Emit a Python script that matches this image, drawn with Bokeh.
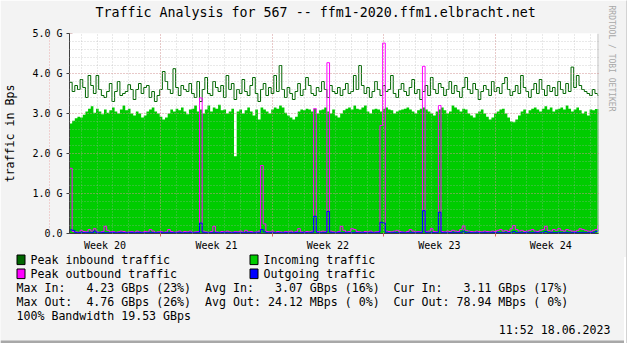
import numpy as np
from bokeh.plotting import figure
from bokeh.layouts import column, row
from bokeh.models import FixedTicker, Title, Span, Arrow, Range1d
from bokeh.core.properties import value
from bokeh.embed import file_html
from bokeh.resources import INLINE

# ---------------- data ----------------
chart_title = "Traffic Analysis for 567 -- ffm1-2020.ffm1.elbracht.net"
y_axis_title = "traffic in Bps"
week_labels = ["Week 20", "Week 21", "Week 22", "Week 23", "Week 24"]
week_starts = ["2023-05-15", "2023-05-22", "2023-05-29", "2023-06-05", "2023-06-12"]
t_first = "2023-05-16T06:29"
t_last = "2023-06-18T11:52"
step_hours = 4
y_ticks = [0, 1, 2, 3, 4, 5]
y_tick_labels = ["0.0", "1.0 G", "2.0 G", "3.0 G", "4.0 G", "5.0 G"]

# values in G (per 4-hour step)
incoming = [
    2.75, 2.82, 2.88, 2.92, 2.90, 2.97, 3.05, 3.12, 3.18, 3.02, 3.12, 3.05, 2.98, 3.10, 3.02, 3.08, 3.15, 3.05, 3.00, 3.10,
    3.20, 3.08, 3.12, 3.00, 2.95, 3.05, 3.00, 2.90, 2.95, 3.05, 3.10, 3.15, 3.05, 3.00, 2.92, 2.85, 2.90, 3.00, 3.10, 3.05,
    3.12, 3.08, 3.15, 3.05, 2.98, 3.10, 3.12, 3.20, 3.05, 3.10, 3.00, 3.10, 3.20, 3.05, 3.15, 3.12, 3.22, 3.08, 3.10, 3.00,
    3.05, 3.12, 1.93, 3.05, 3.10, 3.00, 3.08, 3.15, 3.05, 2.95, 3.10, 2.85, 3.15, 3.10, 3.05, 3.00, 3.10, 3.15, 3.12, 3.20,
    3.15, 3.02, 2.95, 2.90, 2.85, 2.92, 3.05, 3.10, 3.08, 3.12, 3.10, 3.05, 3.12, 3.00, 3.08, 3.10, 3.15, 3.05, 3.00, 3.10,
    2.95, 2.90, 3.00, 3.08, 3.12, 3.15, 3.10, 3.20, 3.12, 3.10, 3.15, 3.20, 3.05, 3.00, 3.10, 3.12, 3.10, 3.05, 3.12, 3.15,
    3.10, 3.08, 3.00, 3.05, 3.08, 3.10, 3.12, 3.15, 3.10, 3.05, 3.00, 3.08, 3.12, 3.15, 3.10, 3.05, 3.00, 2.95, 3.05, 3.10,
    3.15, 3.08, 3.00, 3.05, 3.20, 3.15, 3.10, 3.05, 3.12, 3.10, 3.00, 2.95, 2.90, 3.00, 3.05, 3.10, 3.00, 2.92, 2.85, 2.90,
    3.00, 3.05, 3.10, 3.12, 3.00, 2.90, 2.80, 2.78, 2.85, 2.95, 3.05, 3.10, 3.00, 3.08, 3.12, 3.15, 3.10, 3.05, 3.12, 3.18,
    3.10, 3.15, 3.05, 3.10, 3.12, 3.15, 3.10, 3.20, 3.12, 3.05, 3.10, 3.15, 3.08, 3.00, 3.05, 2.95, 3.10, 3.08, 3.11, 3.11,
]
peak_in = [
    3.78, 3.55, 3.70, 3.60, 3.85, 3.65, 3.40, 3.95, 3.70, 3.50, 3.95, 3.60, 3.45, 3.40, 3.55, 3.75, 3.30, 3.55, 3.80, 3.45,
    3.50, 3.55, 3.72, 3.60, 3.35, 3.60, 3.75, 3.50, 3.65, 3.70, 3.40, 3.55, 3.30, 3.45, 3.60, 4.05, 3.80, 3.60, 3.50, 4.12,
    3.65, 3.45, 3.70, 3.60, 3.55, 3.75, 3.50, 3.40, 3.80, 3.30, 3.60, 3.90, 3.50, 3.45, 3.80, 3.65, 3.55, 3.70, 3.40, 3.95,
    3.60, 3.75, 3.35, 3.60, 3.50, 3.85, 3.55, 3.45, 3.70, 3.90, 3.50, 3.30, 3.60, 3.75, 3.45, 3.65, 3.50, 3.95, 3.55, 4.20,
    3.60, 3.40, 3.65, 3.50, 3.35, 3.55, 3.75, 3.45, 3.60, 3.90, 3.70, 3.50, 3.45, 3.65, 3.55, 3.80, 3.60, 3.40, 3.70, 3.55,
    3.50, 3.65, 3.45, 3.60, 3.75, 3.50, 3.55, 3.95, 3.60, 4.20, 3.70, 3.50, 3.65, 3.40, 3.55, 3.80, 3.60, 3.45, 3.70, 3.55,
    3.60, 3.95, 3.50, 3.40, 3.60, 3.75, 3.55, 3.45, 3.65, 3.85, 3.50, 3.60, 3.35, 3.55, 3.70, 3.45, 3.90, 3.60, 3.50, 3.75,
    3.65, 3.45, 3.60, 3.80, 3.50, 3.70, 3.55, 3.40, 3.65, 3.90, 3.60, 3.50, 3.75, 3.60, 3.35, 3.55, 3.70, 3.60, 3.45, 3.80,
    3.55, 3.65, 3.50, 3.75, 3.90, 3.60, 3.45, 3.55, 3.70, 3.50, 3.95, 3.65, 3.55, 3.40, 3.60, 3.75, 3.50, 3.85, 3.60, 3.45,
    3.70, 3.55, 3.65, 3.45, 3.80, 3.60, 3.50, 3.75, 3.55, 4.16, 3.65, 3.95, 3.70, 3.60, 3.55, 3.50, 3.45, 3.60, 3.50, 3.45,
]
peak_out = [
    1.63, 0.05, 0.04, 0.03, 0.08, 0.05, 0.04, 0.10, 0.06, 0.12, 0.04, 0.03, 0.05, 0.18, 0.08, 0.04, 0.05, 0.03, 0.04, 0.06,
    0.05, 0.03, 0.04, 0.05, 0.03, 0.06, 0.04, 0.03, 0.05, 0.04, 0.10, 0.06, 0.03, 0.04, 0.05, 0.03, 0.04, 0.10, 0.05, 0.03,
    0.04, 0.06, 0.03, 0.05, 0.04, 0.06, 0.03, 0.04, 0.05, 3.39, 0.06, 0.04, 0.03, 0.05, 0.18, 0.04, 0.03, 0.05, 0.04, 0.06,
    0.04, 0.03, 0.05, 0.04, 0.06, 0.03, 0.08, 0.04, 0.05, 0.03, 0.04, 0.06, 1.70, 0.24, 0.05, 0.04, 0.06, 0.03, 0.05, 0.04,
    0.03, 0.05, 0.04, 0.06, 0.03, 0.05, 0.12, 0.04, 0.03, 0.05, 0.04, 0.06, 3.12, 0.05, 0.04, 0.06, 0.05, 4.27, 0.06, 0.04,
    0.03, 0.05, 0.18, 0.08, 0.04, 0.05, 0.12, 0.10, 0.05, 0.04, 0.03, 0.05, 0.04, 0.06, 0.03, 0.04, 0.05, 2.70, 4.76, 0.06,
    0.05, 0.04, 0.06, 0.08, 0.05, 0.04, 0.03, 0.05, 0.10, 0.06, 0.04, 0.05, 0.04, 4.18, 0.05, 0.06, 0.12, 0.05, 0.04, 3.20,
    0.05, 0.04, 0.06, 0.05, 0.08, 0.06, 0.05, 0.10, 0.19, 0.08, 0.06, 0.05, 0.04, 0.06, 0.05, 0.04, 0.06, 0.05, 0.04, 0.06,
    0.05, 0.08, 0.10, 0.06, 0.08, 0.05, 0.12, 0.20, 0.10, 0.06, 0.08, 0.05, 0.06, 0.08, 0.10, 0.06, 0.05, 0.08, 0.10, 0.18,
    0.08, 0.06, 0.10, 0.08, 0.12, 0.08, 0.06, 0.10, 0.08, 0.06, 0.05, 0.08, 0.12, 0.10, 0.08, 0.06, 0.05, 0.08, 0.10, 0.20,
]
outgoing = [
    0.09, 0.08, 0.02, 0.02, 0.03, 0.02, 0.02, 0.03, 0.02, 0.06, 0.02, 0.02, 0.03, 0.02, 0.02, 0.02, 0.03, 0.02, 0.02, 0.03,
    0.02, 0.02, 0.02, 0.03, 0.02, 0.02, 0.03, 0.02, 0.02, 0.02, 0.03, 0.02, 0.02, 0.02, 0.03, 0.02, 0.02, 0.03, 0.02, 0.02,
    0.02, 0.03, 0.02, 0.02, 0.02, 0.03, 0.02, 0.02, 0.03, 0.26, 0.03, 0.02, 0.02, 0.02, 0.03, 0.02, 0.02, 0.02, 0.03, 0.02,
    0.02, 0.02, 0.03, 0.02, 0.02, 0.02, 0.03, 0.02, 0.02, 0.02, 0.03, 0.02, 0.10, 0.04, 0.02, 0.02, 0.03, 0.02, 0.02, 0.02,
    0.02, 0.03, 0.02, 0.02, 0.02, 0.03, 0.02, 0.02, 0.03, 0.02, 0.02, 0.03, 0.43, 0.03, 0.02, 0.02, 0.03, 0.55, 0.03, 0.02,
    0.02, 0.03, 0.02, 0.02, 0.03, 0.02, 0.02, 0.03, 0.02, 0.02, 0.03, 0.02, 0.02, 0.03, 0.02, 0.02, 0.03, 0.28, 0.26, 0.03,
    0.02, 0.02, 0.03, 0.02, 0.02, 0.03, 0.02, 0.02, 0.03, 0.02, 0.02, 0.03, 0.02, 0.57, 0.03, 0.02, 0.03, 0.02, 0.02, 0.53,
    0.02, 0.03, 0.02, 0.02, 0.03, 0.02, 0.02, 0.03, 0.06, 0.02, 0.03, 0.02, 0.02, 0.03, 0.02, 0.02, 0.03, 0.02, 0.02, 0.03,
    0.02, 0.03, 0.02, 0.02, 0.03, 0.02, 0.02, 0.05, 0.02, 0.03, 0.02, 0.02, 0.03, 0.02, 0.02, 0.03, 0.02, 0.02, 0.03, 0.05,
    0.02, 0.03, 0.02, 0.02, 0.03, 0.02, 0.02, 0.03, 0.02, 0.02, 0.03, 0.02, 0.02, 0.03, 0.02, 0.02, 0.03, 0.02, 0.05, 0.08,
]

legend_names = ["Peak inbound traffic", "Incoming traffic", "Peak outbound traffic", "Outgoing traffic"]
legend_colors = ["#006600", "#00CC00", "#FF00FF", "#0000FF"]
stat_labels = [["Max In:", "Avg In:", "Cur In:"],
               ["Max Out:", "Avg Out:", "Cur Out:"]]
stat_values = [["4.23 GBps (23%)", "3.07 GBps (16%)", "3.11 GBps (17%)"],
               ["4.76 GBps (26%)", "24.12 MBps ( 0%)", "78.94 MBps ( 0%)"]]
bandwidth_line = "100% Bandwidth 19.53 GBps"
timestamp = "11:52 18.06.2023"
watermark = "RRDTOOL / TOBI OETIKER"

# ---------------- derived positions ----------------
origin = np.datetime64(week_starts[0])
def to_days(t):
    return float((np.datetime64(t) - origin) / np.timedelta64(1, "m")) / 1440.0

x_start = to_days(t_first)
x_end = to_days(t_last)
n = min(len(incoming), len(peak_in), len(peak_out), len(outgoing))
xs = x_start + np.arange(n + 1) * step_hours / 24.0
def ext(a):
    a = list(a[:n])
    return a + [a[-1]]

week_start_days = [to_days(w) for w in week_starts]
week_centers = [d + 3.5 for d in week_start_days]
day_ticks = list(np.arange(np.ceil(x_start), np.floor(x_end) + 1))
y_minor = [round(v, 2) for v in np.arange(0, 5.001, 0.2)]

FONT = "DejaVu Sans Mono"
BG = "#F3F3F3"
SHADE = "#A8A8A8"
ARROW = "#802020"
AXIS = "#404040"
TOTAL_W, TOTAL_H = 627, 343
MAIN_W = 624
L, T, R, B = 67, 33, 28, 24
FW, FH = MAIN_W - L - R, 200
MAIN_H = T + FH + B
LEGEND_TOP = 250          # canvas y where the legend panel begins

def no_align(fig):
    try:
        fig.frame_align = False
    except Exception:
        pass

# ---------------- main chart ----------------
p = figure(width=MAIN_W, height=MAIN_H, frame_width=FW, frame_height=FH,
           x_range=(x_start, x_end), y_range=(0, 5),
           output_backend="svg", toolbar_location=None,
           min_border_left=L, min_border_right=R, min_border_top=T, min_border_bottom=B,
           background_fill_color="white", border_fill_color=BG,
           outline_line_color=None)
no_align(p)

p.varea_step(x=xs, y1=0, y2=ext(incoming), step_mode="after", fill_color="#00CC00")
p.step(xs, ext(peak_in), mode="after", line_color="#006600", line_width=1)
p.step(xs, ext(peak_out), mode="after", line_color="#FF00FF", line_width=1)
p.step(xs, ext(outgoing), mode="after", line_color="#0000FF", line_width=1)

# titles: spacer nearest the frame, then the real title above it
p.add_layout(Title(text=" ", text_font_size="2px", standoff=10), "above")
p.add_layout(Title(text=chart_title, align="left", offset=26, standoff=0,
                   text_font=FONT, text_font_size="13.3px", text_font_style="normal",
                   text_color="black"), "above")
p.add_layout(Title(text=watermark, align="left", offset=-28, standoff=16,
                   text_font=FONT, text_font_size="8px", text_font_style="normal",
                   text_color="#A8A8A8"), "right")

# axes
xa = p.xaxis[0]
xa.ticker = FixedTicker(ticks=week_centers, minor_ticks=week_start_days)
xa.major_label_overrides = {c: lab for c, lab in zip(week_centers, week_labels)}
xa.major_tick_line_color = None
xa.major_tick_out = 0
xa.major_tick_in = 0
xa.minor_tick_line_color = "#E06060"
xa.minor_tick_out = 3
xa.minor_tick_in = 0
xa.axis_line_color = AXIS
xa.major_label_standoff = 3
xa.major_label_text_font = FONT
xa.major_label_text_font_size = "10px"
xa.major_label_text_color = "black"

ya = p.yaxis[0]
ya.ticker = FixedTicker(ticks=y_ticks)
ya.major_label_overrides = {t: lab for t, lab in zip(y_ticks, y_tick_labels)}
ya.major_tick_out = 3
ya.major_tick_in = 0
ya.major_tick_line_color = AXIS
ya.minor_tick_line_color = None
ya.axis_line_color = AXIS
ya.major_label_standoff = 4
ya.major_label_text_font = FONT
ya.major_label_text_font_size = "10px"
ya.major_label_text_color = "black"
ya.axis_label = y_axis_title
ya.axis_label_standoff = 12
ya.axis_label_text_font = FONT
ya.axis_label_text_font_size = "11.6px"
ya.axis_label_text_font_style = "normal"
ya.axis_label_text_color = "black"

# grid (on top, rrdtool style)
p.xgrid.ticker = FixedTicker(ticks=week_start_days, minor_ticks=day_ticks)
p.ygrid.ticker = FixedTicker(ticks=y_ticks, minor_ticks=y_minor)
for g in (p.xgrid[0], p.ygrid[0]):
    g.level = "overlay"
    g.grid_line_color = "#E88080"
    g.grid_line_alpha = 0.6
    g.grid_line_dash = "1 2"
    g.minor_grid_line_color = "#B0B0B0"
    g.minor_grid_line_alpha = 0.55
    g.minor_grid_line_dash = "1 2"

p.add_layout(Span(location=x_end, dimension="height", line_color="#C0C0C0", line_width=2))

def seg(x0, y0, x1, y1, color, width=1):
    p.add_layout(Arrow(x_start=x0, y_start=y0, x_end=x1, y_end=y1,
                       start_units="screen", end_units="screen",
                       line_color=color, line_width=width, end=None))

# axis lines extended past the frame, with arrow heads (frame-relative screen px)
seg(0, -4, 0, FH + 1, AXIS)
seg(-4, 0, FW + 2, 0, AXIS)
for k in range(6):
    hw = 0.5 + 0.5 * k
    seg(-hw, FH + 5.5 - k, hw, FH + 5.5 - k, ARROW)        # up arrow at top of y axis
    seg(FW + 7.5 - k, -hw, FW + 7.5 - k, hw, ARROW)        # right arrow at end of x axis

# ---------------- legend / statistics panel ----------------
BOT_H = TOTAL_H - LEGEND_TOP
q = figure(width=MAIN_W, height=BOT_H, frame_width=MAIN_W, frame_height=BOT_H,
           x_range=Range1d(0, MAIN_W), y_range=Range1d(BOT_H, 0),
           output_backend="svg", toolbar_location=None, min_border=0,
           x_axis_location=None, y_axis_location=None,
           background_fill_color=BG, border_fill_color=BG, outline_line_color=None,
           margin=(LEGEND_TOP - MAIN_H, 0, 0, 0))
no_align(q)
q.grid.visible = False

CW = 0.602 * 11.6     # monospace character advance
def col(c):
    return 16 + c * CW

box_x = [16.5, 249.5, 16.5, 249.5]
row_y = [9.3, 9.3, 23.3, 23.3]
txt_x = [30, 263, 30, 263]
q.quad(left=box_x, right=[b + 8 for b in box_x],
       top=[y - 4.8 for y in row_y], bottom=[y + 4.8 for y in row_y],
       fill_color=legend_colors, line_color="black", line_width=1)
q.text(x=txt_x, y=row_y, text=legend_names, text_font=value(FONT),
       text_font_size=value("11.6px"), text_baseline="middle", text_align="left", text_color="black")

lab_x, lab_y, lab_t, val_x, val_y, val_t = [], [], [], [], [], []
for r, (labs, vals) in enumerate(zip(stat_labels, stat_values)):
    for c, (lab, val) in enumerate(zip(labs, vals)):
        lab_x.append(col(27 * c)); lab_y.append(37.3 + 14 * r); lab_t.append(lab)
        val_x.append(col(27 * c + 25)); val_y.append(37.3 + 14 * r); val_t.append(val)
lab_x.append(col(0)); lab_y.append(37.3 + 28); lab_t.append(bandwidth_line)

q.text(x=lab_x, y=lab_y, text=lab_t, text_font=value(FONT), text_font_size=value("11.6px"),
       text_baseline="middle", text_align="left", text_color="black")
q.text(x=val_x, y=val_y, text=val_t, text_font=value(FONT), text_font_size=value("11.6px"),
       text_baseline="middle", text_align="right", text_color="black")
q.text(x=[610], y=[79], text=[timestamp], text_font=value(FONT), text_font_size=value("11.6px"),
       text_baseline="middle", text_align="right", text_color="black")
q.quad(left=[0], right=[MAIN_W], top=[BOT_H - 3], bottom=[BOT_H], fill_color=SHADE, line_color=None)

# right shade strip
s = figure(width=TOTAL_W - MAIN_W, height=TOTAL_H, output_backend="svg", toolbar_location=None,
           min_border=0, x_axis_location=None, y_axis_location=None,
           background_fill_color=SHADE, border_fill_color=SHADE, outline_line_color=None)
no_align(s)
s.grid.visible = False

layout = row(column(p, q, spacing=0), s, spacing=0)
open("out.html", "w").write(file_html(layout, INLINE))
